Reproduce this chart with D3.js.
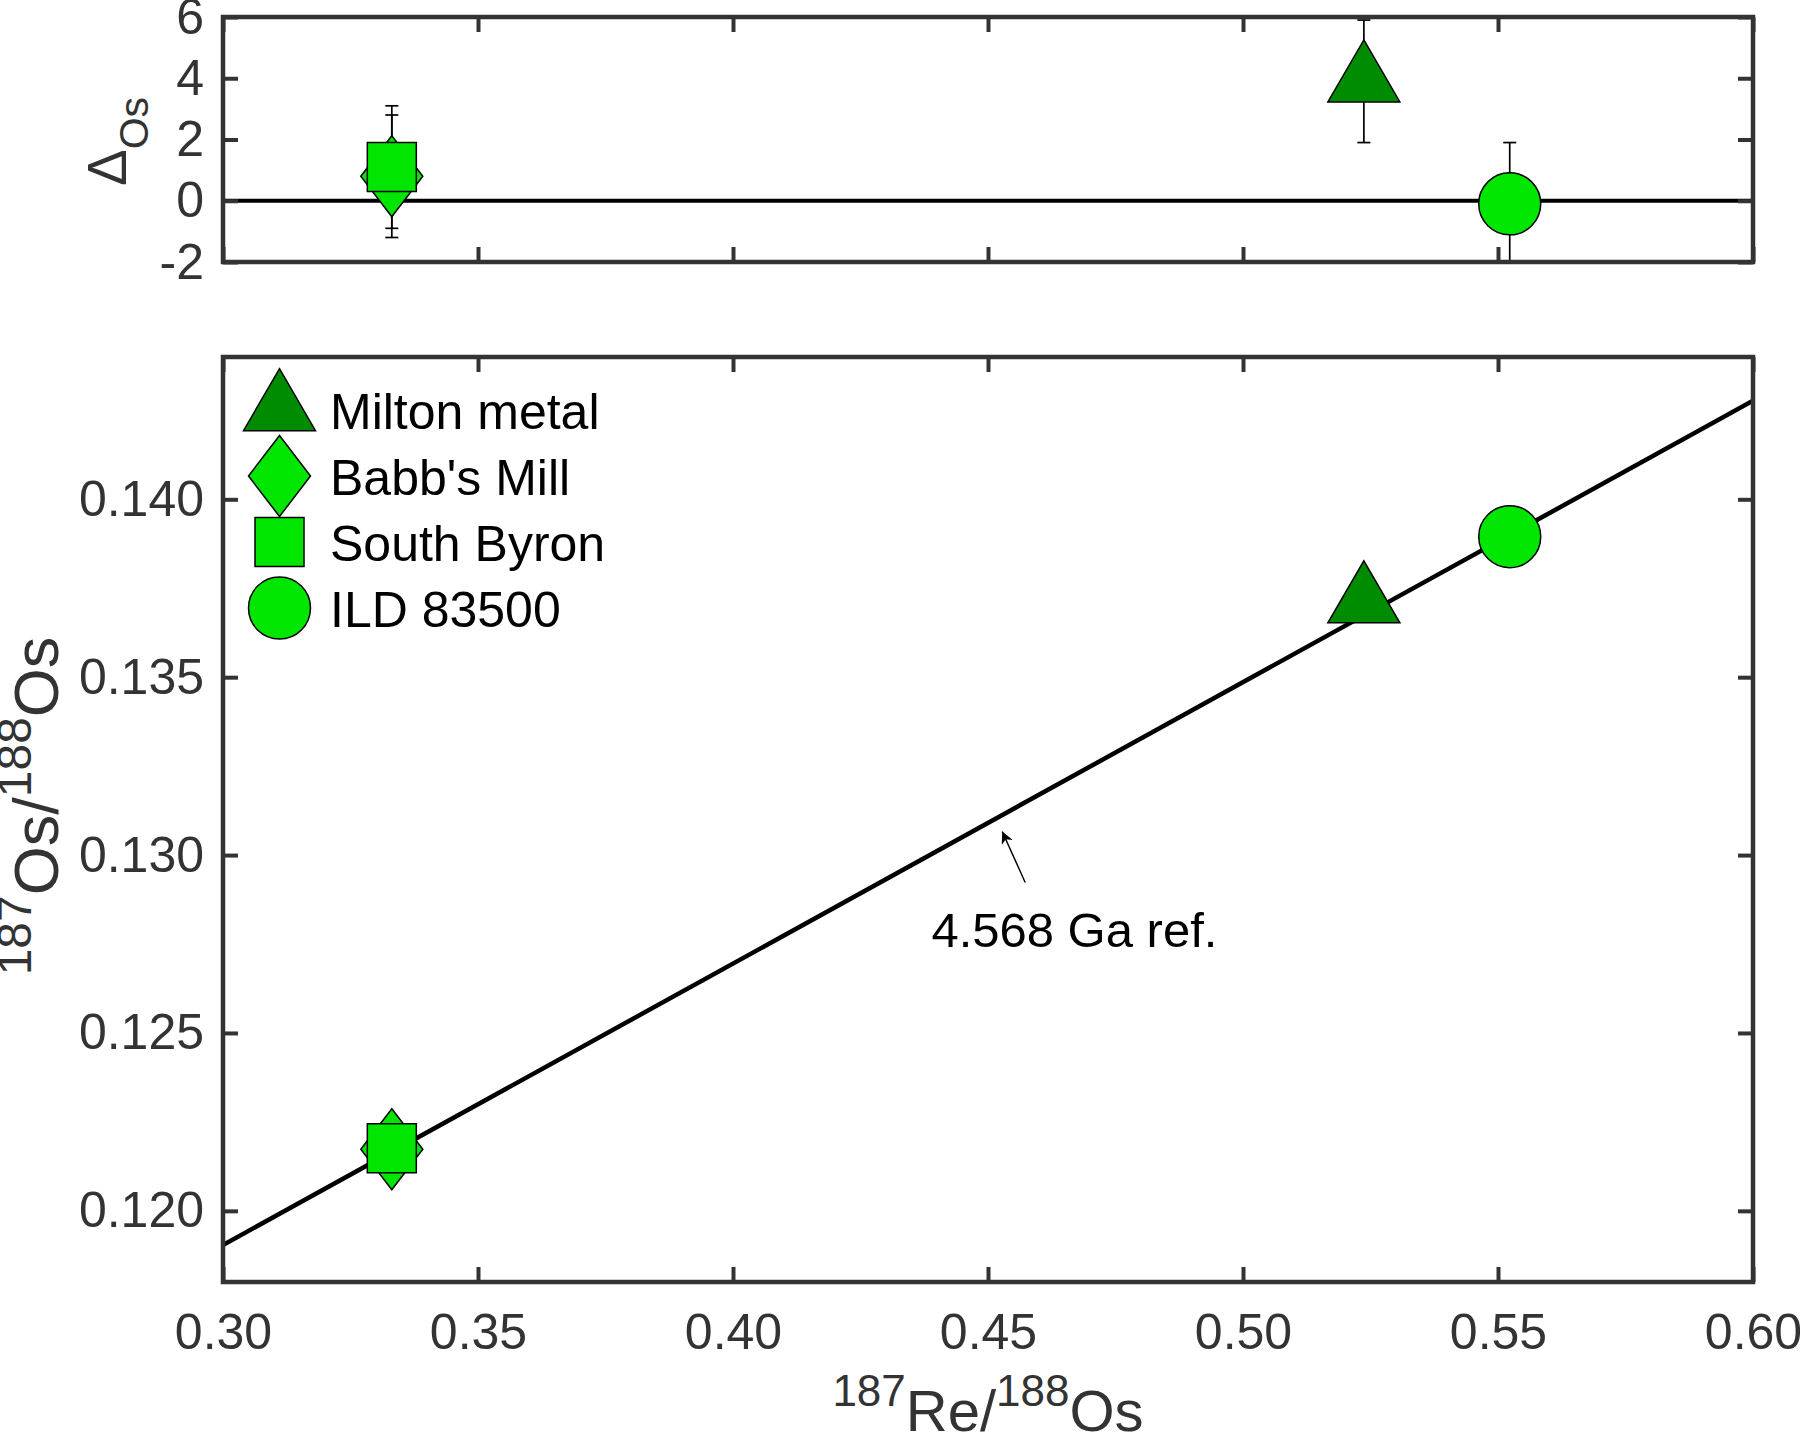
<!DOCTYPE html>
<html>
<head>
<meta charset="utf-8">
<script src="https://cdn.jsdelivr.net/npm/d3@7"></script>
<style>
  html, body { margin: 0; padding: 0; background: #fff; }
  svg { display: block; font-family: "Liberation Sans", Arial, Helvetica, sans-serif; }
</style>
</head>
<body>
<svg id="chart" width="1800" height="1437"></svg>
<script>
// ---------------- data ----------------
const samples   = ["Milton metal", "Babb's Mill", "South Byron", "ILD 83500"];
const shapes    = ["triangle", "diamond", "square", "circle"];
const fills     = ["#008c00", "#00e600", "#00e600", "#00e600"];
const reOs      = [0.5237, 0.3331, 0.3331, 0.5523];       // 187Re/188Os
const osOs      = [0.13711, 0.12173, 0.12176, 0.13895];   // 187Os/188Os
const deltaOs   = [3.9, 0.8, 1.1, -0.1];                  // ΔOs
const deltaErr  = [2.0, 2.0, 2.0, 2.0];                   // ΔOs uncertainty

const refLineX  = [0.30, 0.60];                           // 4.568 Ga reference line
const refLineY  = [0.11904, 0.14277];

const xTicks        = [0.30, 0.35, 0.40, 0.45, 0.50, 0.55, 0.60];
const yTicksTop     = [-2, 0, 2, 4, 6];
const yTicksBottom  = [0.120, 0.125, 0.130, 0.135, 0.140];
const xDomain       = [0.30, 0.60];
const yDomainTop    = [-2, 6];
const yDomainBottom = [0.118, 0.144];

const annotationText = "4.568 Ga ref.";
const annotationTail = [0.4573, 0.12923];
const annotationHead = [0.4528, 0.13066];
const annotationPos  = [0.4389, 0.12743];

// ---------------- layout ----------------
const svg = d3.select("#chart");
const L = 223, R = 1753;
const top1 = 17,  bot1 = 262;
const top2 = 357, bot2 = 1282;
const axisColor = "#333333";
const tickLen = 15;
const tickFont = 50;

const x  = d3.scaleLinear().domain(xDomain).range([L, R]);
const yT = d3.scaleLinear().domain(yDomainTop).range([bot1, top1]);
const yB = d3.scaleLinear().domain(yDomainBottom).range([bot2, top2]);

const defs = svg.append("defs");
defs.append("clipPath").attr("id", "clipTop").append("rect")
  .attr("x", L).attr("y", top1).attr("width", R - L).attr("height", bot1 - top1);
defs.append("clipPath").attr("id", "clipBot").append("rect")
  .attr("x", L).attr("y", top2).attr("width", R - L).attr("height", bot2 - top2);
defs.append("marker").attr("id", "arrowHead")
  .attr("viewBox", "0 0 10 10").attr("refX", 10).attr("refY", 5)
  .attr("markerWidth", 17).attr("markerHeight", 12).attr("markerUnits", "userSpaceOnUse")
  .attr("orient", "auto")
  .append("path").attr("d", "M0,0 L10,5 L0,10 L3,5 Z").attr("fill", "#000");

// marker shape paths (centred on the data point)
function shapePath(shape) {
  switch (shape) {
    case "triangle": { const w = 72, h = 62; return `M0,${-2*h/3} L${w/2},${h/3} L${-w/2},${h/3} Z`; }
    case "diamond":  { const w = 62, h = 81; return `M0,${-h/2} L${w/2},0 L0,${h/2} L${-w/2},0 Z`; }
    case "square":   { const s = 49; return `M${-s/2},${-s/2} h${s} v${s} h${-s} Z`; }
    case "circle":   { const r = 31; return `M${-r},0 A${r},${r} 0 1 0 ${r},0 A${r},${r} 0 1 0 ${-r},0 Z`; }
  }
}

function styleAxis(g, showLabels) {
  g.select(".domain").remove();
  g.selectAll(".tick line").attr("stroke", axisColor).attr("stroke-width", 4);
  g.selectAll(".tick text").attr("fill", axisColor).attr("font-size", tickFont)
    .attr("font-family", "'Liberation Sans', Arial, sans-serif");
  if (!showLabels) g.selectAll(".tick text").remove();
}

function drawFrame(yScale, yTicks, yFmt, t, b, showX) {
  svg.append("g").attr("transform", `translate(${L},0)`)
    .call(d3.axisLeft(yScale).tickValues(yTicks).tickSize(-tickLen).tickSizeOuter(0)
      .tickPadding(19).tickFormat(yFmt))
    .call(g => styleAxis(g, true));
  svg.append("g").attr("transform", `translate(${R},0)`)
    .call(d3.axisRight(yScale).tickValues(yTicks).tickSize(-tickLen).tickSizeOuter(0))
    .call(g => styleAxis(g, false));
  svg.append("g").attr("transform", `translate(0,${b})`)
    .call(d3.axisBottom(x).tickValues(xTicks).tickSize(-tickLen).tickSizeOuter(0)
      .tickPadding(31).tickFormat(d3.format(".2f")))
    .call(g => styleAxis(g, showX));
  svg.append("g").attr("transform", `translate(0,${t})`)
    .call(d3.axisTop(x).tickValues(xTicks).tickSize(-tickLen).tickSizeOuter(0))
    .call(g => styleAxis(g, false));
}

// ================= TOP PANEL (ΔOs) =================
const topG = svg.append("g").attr("clip-path", "url(#clipTop)");
topG.append("line")
  .attr("x1", x(xDomain[0])).attr("x2", x(xDomain[1]))
  .attr("y1", yT(0)).attr("y2", yT(0))
  .attr("stroke", "#000").attr("stroke-width", 4.2);

const idx = d3.range(samples.length);
const capW = 13;
idx.forEach(i => {
  const cx = x(reOs[i]);
  const y1 = yT(deltaOs[i] + deltaErr[i]), y0 = yT(deltaOs[i] - deltaErr[i]);
  const eb = topG.append("g").attr("stroke", "#000").attr("stroke-width", 1.7);
  eb.append("line").attr("x1", cx).attr("x2", cx).attr("y1", y1).attr("y2", y0);
  eb.append("line").attr("x1", cx - capW/2).attr("x2", cx + capW/2).attr("y1", y1).attr("y2", y1);
  eb.append("line").attr("x1", cx - capW/2).attr("x2", cx + capW/2).attr("y1", y0).attr("y2", y0);
});
const drawOrder = [1, 2, 0, 3];
drawOrder.forEach(i => {
  topG.append("path")
    .attr("d", shapePath(shapes[i]))
    .attr("transform", `translate(${x(reOs[i])},${yT(deltaOs[i])})`)
    .attr("fill", fills[i]).attr("stroke", "#000").attr("stroke-width", 1.5);
});

drawFrame(yT, yTicksTop, d => d3.format("d")(d).replace("−", "-"), top1, bot1, false);
svg.append("rect").attr("x", L).attr("y", top1).attr("width", R - L).attr("height", bot1 - top1)
  .attr("fill", "none").attr("stroke", axisColor).attr("stroke-width", 4.5);

// ΔOs label
const dLab = svg.append("text")
  .attr("transform", `translate(126,${(top1 + bot1) / 2 + 2}) rotate(-90)`)
  .attr("text-anchor", "middle").attr("fill", axisColor)
  .attr("font-family", "'Liberation Sans', Arial, sans-serif");
dLab.append("tspan").attr("font-size", 55).text("Δ");
dLab.append("tspan").attr("font-size", 41).attr("dy", 22).text("Os");

// ================= BOTTOM PANEL (isochron) =================
const botG = svg.append("g").attr("clip-path", "url(#clipBot)");
const refLine = d3.line().x(d => x(d[0])).y(d => yB(d[1]));
botG.append("path")
  .datum(refLineX.map((v, i) => [v, refLineY[i]]))
  .attr("d", refLine).attr("fill", "none").attr("stroke", "#000").attr("stroke-width", 4.5);

drawOrder.forEach(i => {
  botG.append("path")
    .attr("d", shapePath(shapes[i]))
    .attr("transform", `translate(${x(reOs[i])},${yB(osOs[i])})`)
    .attr("fill", fills[i]).attr("stroke", "#000").attr("stroke-width", 1.5);
});

// annotation
svg.append("line")
  .attr("x1", x(annotationTail[0])).attr("y1", yB(annotationTail[1]))
  .attr("x2", x(annotationHead[0])).attr("y2", yB(annotationHead[1]))
  .attr("stroke", "#000").attr("stroke-width", 1.4)
  .attr("marker-end", "url(#arrowHead)");
svg.append("text")
  .attr("x", x(annotationPos[0])).attr("y", yB(annotationPos[1]))
  .attr("font-size", 49).attr("fill", "#000")
  .text(annotationText);

// legend
const legX = 279.5, legY0 = 410, legDy = 66;
samples.forEach((s, i) => {
  const cy = legY0 + i * legDy;
  svg.append("path")
    .attr("d", shapePath(shapes[i]))
    .attr("transform", `translate(${legX},${cy})`)
    .attr("fill", fills[i]).attr("stroke", "#000").attr("stroke-width", 1.5);
  svg.append("text")
    .attr("x", 330).attr("y", cy + 19)
    .attr("font-size", 50).attr("fill", "#000")
    .text(s);
});

drawFrame(yB, yTicksBottom, d3.format(".3f"), top2, bot2, true);
svg.append("rect").attr("x", L).attr("y", top2).attr("width", R - L).attr("height", bot2 - top2)
  .attr("fill", "none").attr("stroke", axisColor).attr("stroke-width", 4.5);

// axis titles
const xt = svg.append("text")
  .attr("x", (L + R) / 2).attr("y", 1431)
  .attr("text-anchor", "middle").attr("fill", axisColor);
xt.append("tspan").attr("font-size", 44).attr("dy", -25).text("187");
xt.append("tspan").attr("font-size", 58).attr("dy", 25).text("Re/");
xt.append("tspan").attr("font-size", 44).attr("dy", -25).text("188");
xt.append("tspan").attr("font-size", 58).attr("dy", 25).text("Os");

const yt = svg.append("text")
  .attr("transform", `translate(58,806) rotate(-90)`)
  .attr("text-anchor", "middle").attr("fill", axisColor);
yt.append("tspan").attr("font-size", 48).attr("dy", -27).text("187");
yt.append("tspan").attr("font-size", 63).attr("dy", 27).text("Os/");
yt.append("tspan").attr("font-size", 48).attr("dy", -27).text("188");
yt.append("tspan").attr("font-size", 63).attr("dy", 27).text("Os");
</script>
</body>
</html>
